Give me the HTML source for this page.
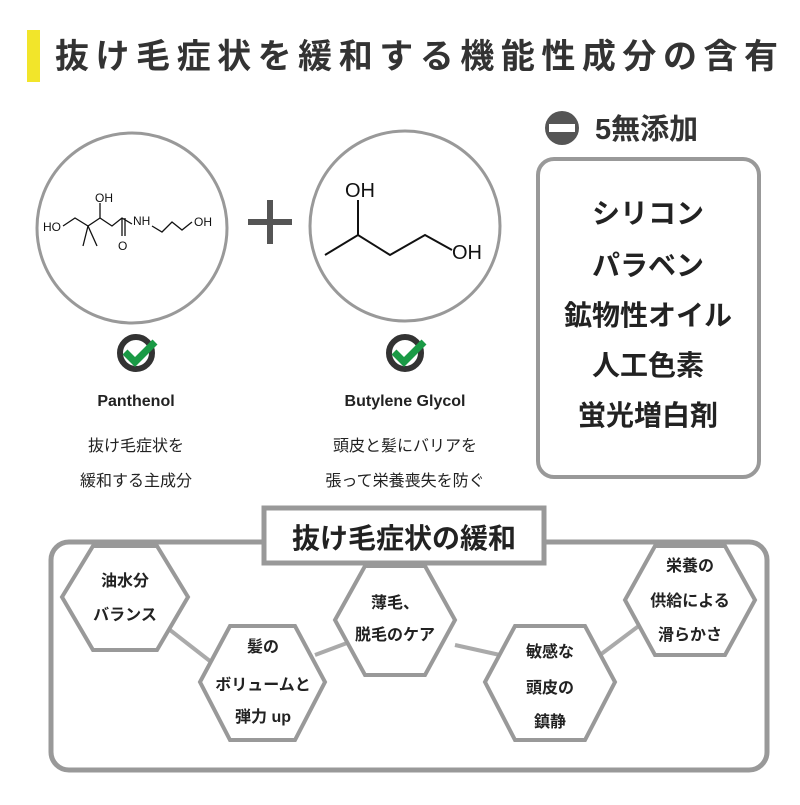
<!DOCTYPE html>
<html><head><meta charset="utf-8"><style>
body{margin:0;width:800px;height:800px;background:#fff;overflow:hidden}
svg text{font-family:"Liberation Sans","Noto Sans CJK JP",sans-serif}
</style></head><body>
<svg width="800" height="800" viewBox="0 0 800 800" xmlns="http://www.w3.org/2000/svg">
<rect x="27" y="30" width="13" height="52" fill="#f2e52a"/>
<text x="55" y="68" font-size="34" font-weight="bold" fill="#333" textLength="723">抜け毛症状を緩和する機能性成分の含有</text>
<!-- 5無添加 -->
<circle cx="562" cy="128" r="17" fill="#555"/>
<rect x="549" y="124" width="26" height="8" fill="#fff"/>
<text x="595" y="139" font-size="29" font-weight="bold" fill="#333">5無添加</text>
<rect x="538" y="159" width="221" height="318" rx="16" fill="none" stroke="#999" stroke-width="4"/>
<g font-size="28" font-weight="bold" fill="#222" text-anchor="middle">
<text x="648" y="223">シリコン</text>
<text x="648" y="275">パラベン</text>
<text x="648" y="325">鉱物性オイル</text>
<text x="648" y="375">人工色素</text>
<text x="648" y="425">蛍光増白剤</text>
</g>
<!-- circles -->
<circle cx="132" cy="228" r="95" fill="none" stroke="#999" stroke-width="3"/>
<circle cx="405" cy="226" r="95" fill="none" stroke="#999" stroke-width="3"/>
<g stroke="#555" stroke-width="6"><line x1="248" y1="222" x2="292" y2="222"/><line x1="270" y1="200" x2="270" y2="244"/></g>
<!-- panthenol -->
<g stroke="#111" stroke-width="1.3" fill="none">
<polyline points="63,226 75,218 88,226 100,218 112,226 122,218 132,224"/>
<line x1="88" y1="226" x2="83" y2="246"/><line x1="88" y1="226" x2="97" y2="246"/>
<line x1="100" y1="218" x2="100" y2="203"/>
<line x1="122" y1="218" x2="122" y2="236"/><line x1="125" y1="218" x2="125" y2="236"/>
<polyline points="152,226 162,232 172,222 182,230 192,222"/>
</g>
<g font-size="12" fill="#111"><text x="43" y="231">HO</text><text x="95" y="202">OH</text><text x="133" y="225">NH</text><text x="194" y="226">OH</text><text x="118" y="250">O</text></g>
<!-- BG -->
<g stroke="#111" stroke-width="2" fill="none"><polyline points="325,255 358,235 390,255 425,235 452,250"/><line x1="358" y1="235" x2="358" y2="200"/></g>
<g font-size="20" fill="#111"><text x="345" y="197">OH</text><text x="452" y="259">OH</text></g>
<!-- checks -->
<g><circle cx="136" cy="353" r="16" fill="none" stroke="#333" stroke-width="6"/>
<polyline points="125,352 135,362 155,342" fill="none" stroke="#1a9a45" stroke-width="7"/>
<circle cx="405" cy="353" r="16" fill="none" stroke="#333" stroke-width="6"/>
<polyline points="394,352 404,362 424,342" fill="none" stroke="#1a9a45" stroke-width="7"/></g>
<g font-size="16" font-weight="bold" fill="#222" text-anchor="middle">
<text x="136" y="406">Panthenol</text><text x="405" y="406">Butylene Glycol</text></g>
<g font-size="16" fill="#222" text-anchor="middle">
<text x="136" y="451">抜け毛症状を</text><text x="136" y="486">緩和する主成分</text>
<text x="405" y="451">頭皮と髪にバリアを</text><text x="405" y="486">張って栄養喪失を防ぐ</text></g>
<!-- bottom -->
<rect x="51" y="542" width="716" height="228" rx="18" fill="none" stroke="#999" stroke-width="5"/>
<g stroke="#aaa" stroke-width="4"><line x1="170" y1="630" x2="215" y2="665"/><line x1="315" y1="655" x2="355" y2="640"/><line x1="455" y1="645" x2="500" y2="655"/><line x1="600" y1="655" x2="640" y2="625"/></g>
<rect x="264" y="508" width="280" height="55" fill="#fff" stroke="#999" stroke-width="5"/>
<text x="404" y="548" font-size="28" font-weight="bold" fill="#222" text-anchor="middle">抜け毛症状の緩和</text>
<g fill="#fff" stroke="#999" stroke-width="4">
<polygon points="62,597 93,546 157,546 188,597 157,650 93,650"/>
<polygon points="200,682 230,626 295,626 325,682 295,740 230,740"/>
<polygon points="335,620 365,566 425,566 455,620 425,675 365,675"/>
<polygon points="485,682 515,626 585,626 615,682 585,740 515,740"/>
<polygon points="625,600 655,546 725,546 755,600 725,655 655,655"/>
</g>
<g font-size="16" font-weight="bold" fill="#222" text-anchor="middle">
<text x="125" y="586">油水分</text><text x="125" y="620">バランス</text>
<text x="263" y="652">髪の</text><text x="263" y="690">ボリュームと</text><text x="263" y="722">弾力 up</text>
<text x="395" y="608">薄毛、</text><text x="395" y="640">脱毛のケア</text>
<text x="550" y="657">敏感な</text><text x="550" y="693">頭皮の</text><text x="550" y="727">鎮静</text>
<text x="690" y="571">栄養の</text><text x="690" y="606">供給による</text><text x="690" y="640">滑らかさ</text>
</g>
</svg>
</body></html>
